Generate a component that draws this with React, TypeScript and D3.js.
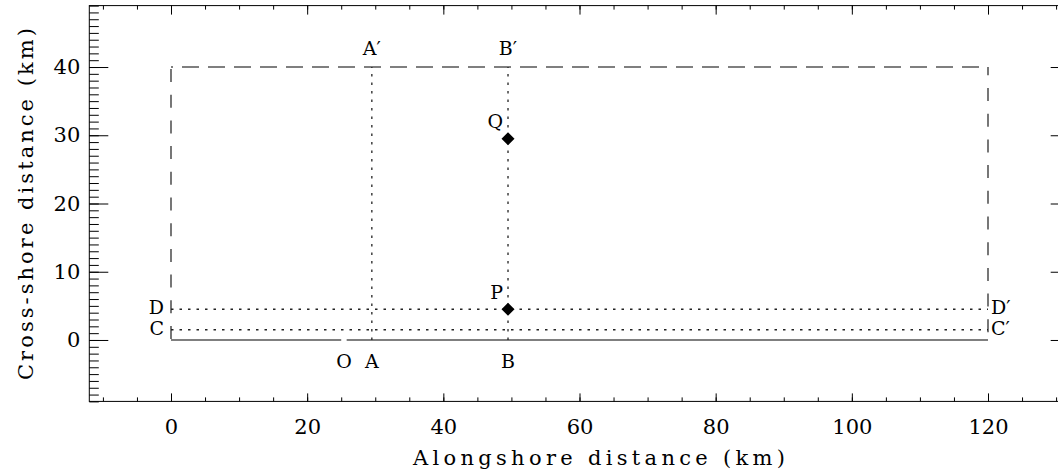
import React, { useEffect, useRef } from 'react'
import * as d3 from 'd3'

// tick labels
const xTickLabels = [0, 20, 40, 60, 80, 100, 120]
const yTickLabels = [0, 10, 20, 30, 40]
const xMinorTicks = d3.range(-10, 131, 5)
const yMinorTicks = d3.range(-9, 50, 1)

// model domain (dashed) and coastline (solid, broken at O)
const boxLeft = 0
const boxRight = 120
const boxTop = 40
const coastFrom = [0, 25.8]
const coastTo = [25, 120]
const originX = 25.4

// cross-shore sections A-A', B-B'
const crossNames = ['A', 'B']
const crossX = [29.5, 49.5]
const crossTop = 40

// alongshore sections C-C', D-D'
const alongNames = ['C', 'D']
const alongY = [1.5, 4.5]
const alongEnd = 120

// stations
const pointNames = ['P', 'Q']
const pointX = [49.5, 49.5]
const pointY = [4.5, 29.5]

const W = 1058
const H = 475
const serif = '"DejaVu Serif", "Liberation Serif", serif'
const ink = '#555'
const dotInk = '#222'

const x = d3.scaleLinear().domain([-12, 132]).range([89.3, 1069.7])
const y = d3.scaleLinear().domain([-9, 49]).range([401.4, 5.6])

const noLabel = () => ''

const axes = {
  bottomMajor: d3.axisBottom(x).tickValues(xTickLabels).tickSize(-8).tickPadding(18).tickFormat(d3.format('d')),
  bottomMinor: d3.axisBottom(x).tickValues(xMinorTicks).tickSize(-4).tickFormat(noLabel),
  topMajor: d3.axisTop(x).tickValues(xTickLabels).tickSize(-9).tickFormat(noLabel),
  topMinor: d3.axisTop(x).tickValues(xMinorTicks).tickSize(-4).tickFormat(noLabel),
  leftMajor: d3.axisLeft(y).tickValues(yTickLabels).tickSize(-19).tickPadding(9).tickFormat(d3.format('d')),
  leftMinor: d3.axisLeft(y).tickValues(yMinorTicks).tickSize(-9.5).tickFormat(noLabel),
  rightMajor: d3.axisRight(y).tickValues(yTickLabels).tickSize(-19).tickFormat(noLabel),
  rightMinor: d3.axisRight(y).tickValues(yMinorTicks).tickSize(-9.5).tickFormat(noLabel),
}

const Axis = ({ axis, transform }: { axis: any; transform: string }) => {
  const ref = useRef<SVGGElement>(null)

  useEffect(() => {
    if (!ref.current) return
    const g = d3.select(ref.current).call(axis)
    g.select('.domain').remove()
    g.attr('font-family', serif).attr('font-size', 21)
    g.selectAll('line').attr('stroke', '#000')
    g.selectAll('text').attr('fill', '#000')
  }, [axis])

  return <g ref={ref} transform={transform} />
}

export default function App() {
  const diamond = d3.symbol().type(d3.symbolSquare).size(85)()
  const label = { fontFamily: serif, fontSize: 19, fill: '#000' }

  return (
    <svg width={W} height={H} style={{ position: 'absolute', left: 0, top: 0, background: '#fff' }}>
      <rect x={x(-12)} y={y(49)} width={x(132) - x(-12)} height={y(-9) - y(49)} fill="none" stroke="#000" />

      <Axis axis={axes.bottomMinor} transform={`translate(0,${y(-9)})`} />
      <Axis axis={axes.bottomMajor} transform={`translate(0,${y(-9)})`} />
      <Axis axis={axes.topMinor} transform={`translate(0,${y(49)})`} />
      <Axis axis={axes.topMajor} transform={`translate(0,${y(49)})`} />
      <Axis axis={axes.leftMinor} transform={`translate(${x(-12)},0)`} />
      <Axis axis={axes.leftMajor} transform={`translate(${x(-12)},0)`} />
      <Axis axis={axes.rightMinor} transform={`translate(${x(132)},0)`} />
      <Axis axis={axes.rightMajor} transform={`translate(${x(132)},0)`} />

      {/* domain (dashed) */}
      <line x1={x(boxLeft)} x2={x(boxLeft)} y1={y(boxTop)} y2={y(0)} stroke={ink} strokeWidth={1.6}
        strokeDasharray="13 12.7" strokeDashoffset={-2} />
      <line x1={x(boxLeft)} x2={x(boxRight)} y1={y(boxTop)} y2={y(boxTop)} stroke={ink} strokeWidth={1.6}
        strokeDasharray="17 9" strokeDashoffset={15} />
      <line x1={x(boxRight)} x2={x(boxRight)} y1={y(boxTop)} y2={y(0)} stroke={ink} strokeWidth={1.6}
        strokeDasharray="13 12.7" strokeDashoffset={4.7} />

      {/* coast */}
      {coastFrom.map((a, i) => (
        <line key={`coast-${i}`} x1={x(a)} x2={x(coastTo[i])} y1={y(0)} y2={y(0)} stroke={ink} strokeWidth={1.6} />
      ))}

      {/* sections */}
      {crossX.map((cx, i) => (
        <g key={`cross-${i}`}>
          <line x1={x(cx)} x2={x(cx)} y1={y(0)} y2={y(crossTop)} stroke={dotInk} strokeWidth={1.3} strokeDasharray="2.5 6" />
          <text x={x(cx)} y={y(0) + 28} textAnchor="middle" style={label}>{crossNames[i]}</text>
          <text x={x(cx)} y={y(crossTop) - 12} textAnchor="middle" style={label}>{crossNames[i] + '′'}</text>
        </g>
      ))}
      {alongY.map((ay, i) => (
        <g key={`along-${i}`}>
          <line x1={x(0)} x2={x(alongEnd)} y1={y(ay)} y2={y(ay)} stroke={dotInk} strokeWidth={1.3} strokeDasharray="2.5 6" />
          <text x={x(0) - 7} y={y(ay) + 5} textAnchor="end" style={label}>{alongNames[i]}</text>
          <text x={x(alongEnd) + 3} y={y(ay) + 5} textAnchor="start" style={label}>{alongNames[i] + '′'}</text>
        </g>
      ))}
      <text x={x(originX)} y={y(0) + 28} textAnchor="middle" style={label}>O</text>

      {/* stations */}
      {pointX.map((px, i) => (
        <g key={`pt-${i}`}>
          <path d={diamond ?? ''} transform={`translate(${x(px)},${y(pointY[i])}) rotate(45)`} fill="#000" />
          <text x={x(px) - 5} y={y(pointY[i]) - 10.5} textAnchor="end" style={label}>{pointNames[i]}</text>
        </g>
      ))}

      {/* axis titles */}
      <text x={599} y={465} textAnchor="middle" textLength={372} lengthAdjust="spacing"
        style={{ fontFamily: serif, fontSize: 21, fill: '#000' }}>
        Alongshore distance (km)
      </text>
      <text transform="translate(33,204) rotate(-90)" textAnchor="middle" textLength={352} lengthAdjust="spacing"
        style={{ fontFamily: serif, fontSize: 21, fill: '#000' }}>
        Cross-shore distance (km)
      </text>
    </svg>
  )
}
